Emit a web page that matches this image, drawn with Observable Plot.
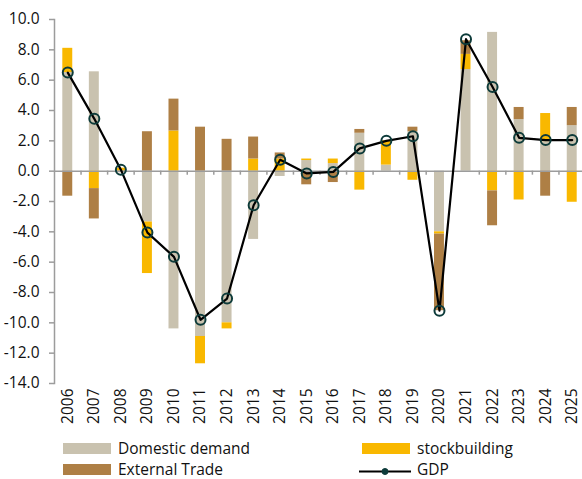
<!DOCTYPE html>
<html><head><meta charset="utf-8">
<script src="https://cdn.jsdelivr.net/npm/d3@7"></script>
<script src="https://cdn.jsdelivr.net/npm/@observablehq/plot@0.6"></script>
<style>
body{margin:0;background:#fff;font-family:"Open Sans",sans-serif;}
#wrap{position:relative;width:582px;height:479px;overflow:hidden;}
#legend{position:absolute;left:0;top:0;width:582px;height:479px;pointer-events:none;}
.item{position:absolute;font-size:15.5px;color:#111;line-height:15px;display:flex;align-items:center;}
.sw{width:48px;height:11px;margin-right:7px;}
.gdpk{position:relative;width:52px;height:11px;margin-right:6px;}
</style></head><body>
<div id="wrap"><div id="chart"></div><div id="legend"></div></div>
<script>
const years = [2006,2007,2008,2009,2010,2011,2012,2013,2014,2015,2016,2017,2018,2019,2020,2021,2022,2023,2024,2025];
const domesticDemand = [6.5,6.55,0.0,-3.35,-10.4,-10.9,-10.0,-4.5,-0.35,0.7,0.5,2.5,0.4,2.6,-4.0,6.7,9.15,3.4,1.95,3.0];
const stockbuilding = [1.6,-1.15,0.2,-3.4,2.65,-1.8,-0.4,0.8,0.8,0.1,0.3,-1.25,1.6,-0.6,-0.15,1.0,-1.3,-1.9,1.85,-2.05];
const externalTrade = [-1.65,-2.0,-0.1,2.6,2.1,2.9,2.1,1.45,0.4,-0.9,-0.75,0.25,0.0,0.3,-5.05,0.9,-2.3,0.8,-1.65,1.2];
const gdp = [6.5,3.45,0.1,-4.05,-5.65,-9.8,-8.4,-2.25,0.75,-0.15,-0.05,1.5,2.0,2.3,-9.2,8.7,5.55,2.2,2.05,2.05];
const yTicks = [-14,-12,-10,-8,-6,-4,-2,0,2,4,6,8,10];
const seriesNames = ["Domestic demand","stockbuilding","External Trade"];
const seriesColors = ["#C9C2AF","#F9B800","#AE7F45"];
const lineName = "GDP";

const rows = [];
years.forEach((yr, i) => {
  rows.push({year: yr, series: seriesNames[0], value: domesticDemand[i]});
  rows.push({year: yr, series: seriesNames[1], value: stockbuilding[i]});
  rows.push({year: yr, series: seriesNames[2], value: externalTrade[i]});
});
const gdpRows = years.map((yr, i) => ({year: yr, value: gdp[i]}));
const boundaries = years.slice(1).map(y => y - 0.5);

// interval centred on each integer year
const centred = {
  floor: d => Math.floor(d + 0.5) - 0.5,
  offset: (d, k = 1) => d + k,
  range: (lo, hi) => d3.range(Math.ceil(lo - 0.5) + 0.5, hi, 1)
};

const chart = Plot.plot({
  width: 582,
  height: 436,
  marginTop: 19,
  marginBottom: 53,
  marginLeft: 54,
  marginRight: -3,
  style: {fontFamily: "Open Sans, sans-serif", fontSize: "15.5px", color: "#111", background: "#fff"},
  x: {domain: [years[0] - 0.5, years[years.length - 1] + 0.5]},
  y: {domain: [yTicks[0], yTicks[yTicks.length - 1]]},
  color: {domain: seriesNames, range: seriesColors},
  marks: [
    Plot.rectY(rows, {x: "year", y: "value", fill: "series", interval: centred, insetLeft: 8.3, insetRight: 8.3, order: seriesNames}),
    Plot.ruleY([0], {stroke: "#9c9c9c", strokeWidth: 1.5}),
    Plot.ruleX(boundaries, {x: d => d, y1: 0, y2: 0, insetBottom: -4, stroke: "#9c9c9c", strokeWidth: 1.5}),
    Plot.frame({anchor: "left", stroke: "#9c9c9c", strokeWidth: 1.5}),
    Plot.axisY({ticks: yTicks, tickFormat: d => d.toFixed(1), tickSize: 5, tickPadding: 10, stroke: "#9c9c9c", strokeWidth: 1.5, fill: "#111", label: null}),
    Plot.axisX({ticks: years, tickFormat: d => String(d), tickRotate: -90, tickSize: 0, tickPadding: 5, fill: "#111", label: null}),
    Plot.line(gdpRows, {x: "year", y: "value", stroke: "#000", strokeWidth: 2.2}),
    Plot.dot(gdpRows, {x: "year", y: "value", r: 5, stroke: "#0D3B3A", strokeWidth: 2, fill: "none"})
  ]
});
document.getElementById("chart").appendChild(chart);

// legend
const legend = document.getElementById("legend");
const items = [
  {name: seriesNames[0], color: seriesColors[0], left: 63, top: 441},
  {name: seriesNames[1], color: seriesColors[1], left: 362, top: 441},
  {name: seriesNames[2], color: seriesColors[2], left: 63, top: 462},
  {name: lineName, line: true, left: 359, top: 462}
];
for (const it of items) {
  const div = document.createElement("div");
  div.className = "item";
  div.style.left = it.left + "px";
  div.style.top = it.top + "px";
  if (it.line) {
    const k = document.createElement("div");
    k.className = "gdpk";
    k.innerHTML = '<svg width="52" height="11"><line x1="0" x2="52" y1="5.5" y2="5.5" stroke="#000" stroke-width="2.2"/><circle cx="26" cy="5.5" r="3" fill="#0D3B3A" stroke="#0D3B3A"/></svg>';
    div.appendChild(k);
  } else {
    const sw = document.createElement("div");
    sw.className = "sw";
    sw.style.background = it.color;
    div.appendChild(sw);
  }
  const t = document.createElement("span");
  t.textContent = it.name;
  div.appendChild(t);
  legend.appendChild(div);
}
</script>
</body></html>
